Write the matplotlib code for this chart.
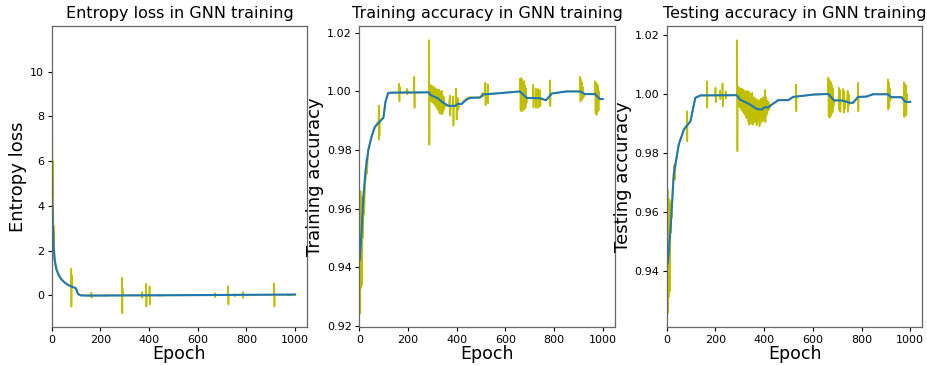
import matplotlib
matplotlib.use("Agg")
import matplotlib.pyplot as plt

# blue smoothed curves (epoch, value)
loss_smooth = [(0, 6.5), (2, 4.4), (5, 3.0), (8, 2.2), (12, 1.6), (20, 1.15), (30, 0.88),
               (40, 0.72), (55, 0.56), (70, 0.45), (85, 0.38), (95, 0.34), (100, 0.31),
               (105, 0.13), (110, 0.05), (120, 0.0), (150, -0.01), (300, 0.0), (500, 0.01),
               (700, 0.02), (1000, 0.04)]

train_smooth = [(2, 0.9425), (10, 0.9528), (17, 0.9642), (26, 0.9733), (37, 0.980), (51, 0.9847),
                (64, 0.9879), (85, 0.9898), (99, 0.991), (108, 0.9966), (119, 0.9995),
                (140, 0.9996), (286, 0.9997), (292, 0.9988), (320, 0.9978), (345, 0.9962),
                (365, 0.9951), (395, 0.9951), (405, 0.9958), (420, 0.9957), (440, 0.9972),
                (455, 0.9978), (496, 0.9979), (510, 0.999), (560, 0.9993), (660, 1.0),
                (688, 0.9978), (743, 0.9977), (767, 0.997), (791, 0.9993), (852, 1.0),
                (907, 1.0), (928, 0.9991), (969, 0.9991), (989, 0.9974), (1000, 0.9974)]

test_smooth = [(4, 0.9425), (15, 0.9539), (29, 0.9732), (49, 0.9829), (70, 0.988), (97, 0.9908),
               (117, 0.9988), (138, 0.9996), (287, 0.9997), (301, 0.9982), (342, 0.9965),
               (369, 0.995), (389, 0.9948), (403, 0.9956), (416, 0.9955), (437, 0.9968),
               (458, 0.998), (499, 0.998), (519, 0.9991), (602, 0.9999), (663, 1.0001),
               (687, 0.9979), (718, 0.9979), (752, 0.9971), (765, 0.9971), (786, 0.9991),
               (820, 0.9992), (847, 1.0), (908, 1.0), (922, 0.999), (963, 0.999),
               (981, 0.9974), (1000, 0.9974)]

# yellow raw curves (epoch, value)
loss_raw = [(0, 2.0), (1, 11.4), (2, 7.5), (3, 4.4), (4, 6.0), (5, 3.0), (6, 4.0), (7, 2.2),
            (8, 3.1), (9, 1.9), (10, 2.0), (12, 1.5), (16, 1.25), (20, 1.1), (30, 0.85),
            (40, 0.7), (55, 0.55), (70, 0.45), (79, 0.4), (80, 1.19), (81, -0.5), (82, 0.9),
            (83, 0.38), (95, 0.34), (100, 0.3), (105, 0.12), (110, 0.05), (120, 0.0),
            (162, 0.0), (163, 0.12), (164, -0.1), (165, 0.0), (220, 0.0), (221, 0.03),
            (222, -0.03), (223, 0.0), (288, 0.0), (289, 0.79), (290, -0.8), (291, 0.3),
            (292, 0.0), (370, 0.0), (371, 0.15), (372, -0.1), (373, 0.0), (387, 0.0),
            (388, 0.52), (389, -0.5), (390, 0.0), (401, 0.0), (402, 0.41), (403, -0.4),
            (404, 0.0), (443, 0.0), (444, 0.05), (445, -0.03), (446, 0.0), (669, 0.01),
            (670, 0.1), (671, -0.08), (672, 0.01), (724, 0.01), (725, 0.41), (726, -0.4),
            (727, 0.02), (750, 0.02), (751, 0.06), (752, -0.04), (753, 0.02), (784, 0.02),
            (785, 0.15), (786, -0.12), (787, 0.02), (913, 0.03), (914, 0.54), (915, -0.5),
            (916, 0.03), (970, 0.03), (971, 0.05), (972, 0.0), (1000, 0.04)]

train_raw = [(0, 0.93), (1, 0.9445), (2, 0.926), (3, 0.958), (4, 0.9243), (5, 0.966), (6, 0.935),
             (7, 0.962), (8, 0.933), (9, 0.955), (10, 0.945), (11, 0.964), (12, 0.934),
             (13, 0.96), (14, 0.95), (15, 0.963), (16, 0.955), (18, 0.962), (20, 0.958),
             (24, 0.968), (28, 0.972), (30, 0.977), (32, 0.972), (34, 0.976), (37, 0.98),
             (51, 0.9847), (64, 0.9879), (79, 0.9898), (80, 0.9952), (81, 0.9835), (82, 0.995),
             (83, 0.985), (84, 0.99), (99, 0.991), (108, 0.9966), (119, 0.9995), (140, 0.9996),
             (163, 0.9996), (164, 1.0027), (165, 0.9966), (166, 1.0015), (167, 0.9996),
             (195, 0.9997), (196, 1.0009), (197, 0.999), (198, 1.0005), (199, 0.9996),
             (225, 0.9996), (226, 1.005), (227, 0.9944), (228, 0.9996), (286, 0.9997),
             (287, 1.0175), (288, 0.9818), (289, 1.002), (290, 0.997), (292, 1.0022),
             (294, 0.9968), (296, 1.002), (298, 0.9965), (300, 1.0015), (302, 0.9962),
             (304, 1.0018), (306, 0.996), (308, 1.001), (310, 0.9955), (312, 1.0012),
             (314, 0.995), (316, 1.0005), (318, 0.9945), (320, 1.0008), (322, 0.994),
             (324, 1.0004), (326, 0.9935), (328, 1.0006), (330, 0.9925), (332, 1.0),
             (334, 0.993), (336, 0.9995), (338, 0.9922), (340, 1.0002), (342, 0.9925),
             (344, 0.9985), (346, 0.9935), (348, 0.998), (350, 0.9945), (355, 0.9955),
             (360, 0.9952), (368, 0.995), (372, 0.9986), (374, 0.9917), (376, 0.995),
             (385, 0.995), (386, 0.9983), (387, 0.9883), (388, 0.995), (396, 0.9952),
             (398, 1.001), (400, 0.9904), (402, 0.998), (404, 0.9935), (406, 0.9975),
             (408, 0.9945), (410, 0.9958), (420, 0.9957), (430, 0.9968), (440, 0.9975),
             (450, 0.998), (470, 0.998), (496, 0.998), (505, 0.9988), (506, 0.9995),
             (507, 0.9982), (510, 0.999), (517, 0.999), (518, 1.003), (519, 0.9953),
             (520, 0.999), (527, 0.999), (528, 1.0025), (529, 0.996), (530, 0.999),
             (560, 0.9993), (660, 1.0), (661, 1.0044), (663, 0.9935), (665, 1.0046),
             (667, 0.9932), (669, 1.004), (671, 0.9935), (673, 1.003), (675, 0.994),
             (677, 1.0035), (679, 0.994), (681, 1.002), (683, 0.9945), (685, 1.001),
             (687, 0.996), (689, 0.9978), (714, 0.9977), (715, 1.0023), (716, 0.9946),
             (717, 0.9977), (724, 0.9977), (725, 1.001), (726, 0.9944), (727, 0.9977),
             (734, 0.9977), (735, 1.0008), (736, 0.9944), (737, 0.9976), (742, 0.9976),
             (743, 1.0005), (744, 0.995), (745, 0.9976), (767, 0.997), (783, 0.998),
             (784, 1.0038), (785, 0.995), (786, 0.9985), (791, 0.9993), (852, 1.0),
             (906, 1.0), (907, 1.005), (909, 0.9966), (911, 1.004), (913, 0.997),
             (915, 1.003), (917, 0.9975), (919, 1.0015), (921, 0.998), (925, 0.9991),
             (968, 0.9991), (969, 1.0035), (971, 0.9925), (973, 1.003), (975, 0.992),
             (977, 1.0025), (979, 0.993), (981, 1.002), (983, 0.9935), (985, 1.0),
             (987, 0.9974), (1000, 0.9974)]

test_raw = [(0, 0.94), (1, 0.955), (2, 0.9265), (3, 0.9675), (4, 0.9255), (5, 0.962),
            (6, 0.935), (7, 0.9645), (8, 0.931), (9, 0.958), (10, 0.94), (11, 0.964),
            (12, 0.933), (13, 0.961), (14, 0.948), (15, 0.963), (16, 0.953), (18, 0.96),
            (20, 0.958), (25, 0.97), (29, 0.9732), (31, 0.976), (33, 0.971), (35, 0.975),
            (49, 0.9829), (70, 0.988), (82, 0.9895), (83, 0.9942), (84, 0.984), (85, 0.9897),
            (97, 0.9908), (117, 0.9988), (138, 0.9996), (164, 0.9996), (165, 1.0044),
            (166, 0.9954), (167, 0.9996), (199, 0.9996), (200, 1.0022), (201, 0.9973),
            (202, 0.9996), (218, 0.9996), (219, 1.0012), (220, 0.9983), (221, 0.9996),
            (228, 0.9996), (229, 1.0037), (230, 0.9959), (231, 0.9996), (241, 0.9996),
            (242, 1.001), (243, 0.9985), (244, 0.9996), (288, 0.9997), (289, 1.0184),
            (290, 0.9806), (291, 1.0027), (293, 0.9965), (295, 1.0025), (297, 0.996),
            (299, 1.002), (301, 0.9955), (303, 1.0015), (305, 0.995), (307, 1.002),
            (309, 0.9945), (311, 1.0012), (313, 0.994), (315, 1.0016), (317, 0.9935),
            (319, 1.0005), (321, 0.993), (323, 1.001), (325, 0.992), (327, 1.0), (329, 0.9925),
            (331, 1.0012), (333, 0.991), (335, 0.9995), (337, 0.9897), (339, 1.0008),
            (341, 0.9905), (343, 1.0), (345, 0.99), (347, 0.9995), (349, 0.991),
            (351, 1.0005), (353, 0.9897), (355, 0.9985), (357, 0.991), (359, 0.999),
            (361, 0.9905), (363, 0.998), (365, 0.992), (367, 0.9985), (369, 0.9895),
            (371, 0.998), (373, 0.991), (375, 0.9975), (377, 0.9925), (379, 0.998),
            (381, 0.9891), (383, 0.9975), (385, 0.992), (387, 0.9985), (389, 0.9905),
            (391, 0.998), (393, 0.9915), (395, 0.999), (397, 0.991), (399, 0.9985),
            (401, 0.992), (403, 1.0015), (405, 0.9905), (407, 0.999), (409, 0.9925),
            (411, 0.998), (413, 0.9935), (415, 0.9975), (417, 0.9945), (419, 0.997),
            (421, 0.995), (425, 0.9962), (437, 0.9968), (458, 0.998), (499, 0.998),
            (519, 0.9991), (530, 0.9992), (531, 1.0033), (532, 0.9942), (533, 0.9992),
            (602, 0.9999), (662, 1.0001), (663, 1.0056), (665, 0.9925), (667, 1.005),
            (669, 0.992), (671, 1.0045), (673, 0.9925), (675, 1.004), (677, 0.9935),
            (679, 1.003), (681, 0.994), (683, 1.002), (685, 0.996), (687, 0.9979),
            (706, 0.9979), (707, 1.0022), (709, 0.9945), (711, 1.0015), (713, 0.994),
            (715, 0.9979), (718, 0.9979), (723, 0.9979), (725, 1.0018), (727, 0.9937),
            (729, 1.001), (731, 0.995), (733, 0.9978), (740, 0.9975), (743, 1.0012),
            (745, 0.994), (747, 1.0), (749, 0.9965), (752, 0.9971), (765, 0.9971),
            (785, 0.999), (786, 1.0039), (787, 0.9942), (788, 0.9991), (820, 0.9992),
            (847, 1.0), (907, 1.0), (908, 1.005), (910, 0.9948), (912, 1.004), (914, 0.9955),
            (916, 1.002), (918, 0.998), (922, 0.999), (963, 0.999), (973, 0.999),
            (974, 1.0041), (976, 0.9923), (978, 1.0035), (980, 0.9928), (982, 1.003),
            (984, 0.993), (986, 1.0), (988, 0.9974), (1000, 0.9974)]

panels = [
    ("Entropy loss in GNN training", "Entropy loss", loss_raw, loss_smooth, [0, 2, 4, 6, 8, 10]),
    ("Training accuracy in GNN training", "Training accuracy", train_raw, train_smooth,
     [0.92, 0.94, 0.96, 0.98, 1.00, 1.02]),
    ("Testing accuracy in GNN training", "Testing accuracy", test_raw, test_smooth,
     [0.94, 0.96, 0.98, 1.00, 1.02]),
]

fig, axes = plt.subplots(1, 3, figsize=(9.27, 3.66), dpi=100)
fig.subplots_adjust(left=0.0558, right=0.995, bottom=0.1066, top=0.9276, wspace=0.2035)

for ax, (title, ylabel, raw, smooth, yticks) in zip(axes, panels):
    rx, ry = zip(*raw)
    sx, sy = zip(*smooth)
    ax.plot(rx, ry, color="y", lw=1.2)
    ax.plot(sx, sy, color="#1f77b4", lw=1.5)
    ax.set_xlim(0, 1050)
    ax.set_xticks([0, 200, 400, 600, 800, 1000])
    ax.set_yticks(yticks)
    if ylabel != "Entropy loss":
        ax.set_yticklabels([f"{t:.2f}" for t in yticks])
    ax.set_title(title, fontsize=11.5)
    ax.set_xlabel("Epoch", fontsize=12.5, labelpad=0)
    ax.set_ylabel(ylabel, fontsize=13, labelpad=2)
    ax.tick_params(labelsize=8, length=3, pad=2.5)
    for sp in ax.spines.values():
        sp.set_color("0.4")
        sp.set_linewidth(0.9)

fig.savefig("out.png", dpi=100)
